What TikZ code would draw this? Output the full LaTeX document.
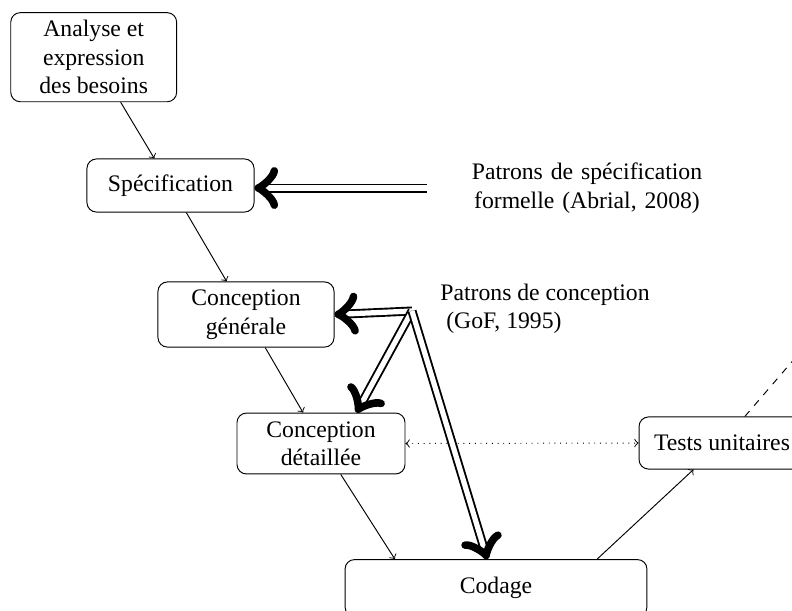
\documentclass[tikz,border=0pt]{standalone}
\usepackage{fontspec}
\setmainfont{Liberation Serif}
\usetikzlibrary{calc}
\newcommand\pattip[2]{%
  \draw[pat] (#2) -- ($(#1)!3.5pt!(#2)$);
  \coordinate (apx) at ($(#1)!1.6pt!(#2)$);
  \draw[tipstroke] ($(apx)!9.9pt!47:(#2)$) .. controls ($(apx)!7.8pt!35:(#2)$) and ($(apx)!1.45pt!18:(#2)$) .. (apx) .. controls ($(apx)!1.45pt!-18:(#2)$) and ($(apx)!7.8pt!-35:(#2)$) .. ($(apx)!9.9pt!-47:(#2)$);
}
\begin{document}
\begin{tikzpicture}[x=0.422pt,y=-0.422pt,
  box/.style={draw, rounded corners=4pt, align=center, inner sep=3pt, line width=0.4pt},
  flow/.style={->, line width=0.4pt},
  pat/.style={double, double distance=2.2pt, line width=0.8pt},
  tipstroke/.style={line width=3.2pt, line cap=round, line join=round},
]
\useasboundingbox (0,0) rectangle (792,610);
\node[box, minimum width=70pt, minimum height=37.6pt] (an) at (93.7,57.2) {Analyse et\\expression\\des besoins};
\node[box, minimum width=70.5pt, minimum height=22.4pt] (spec) at (170.5,185.5) {Spécification};
\node[box, minimum width=74.3pt, minimum height=27.5pt] (cg) at (246,314.5) {Conception\\générale};
\node[box, minimum width=70.9pt, minimum height=25.7pt] (cd) at (321,443.5) {Conception\\détaillée};
\node[box, minimum width=70pt, minimum height=22pt] (tu) at (722,443) {Tests unitaires};
\node[box, minimum width=127.4pt, minimum height=24pt] (codage) at (496,588) {Codage};
\node[align=center, text width=128pt] (pspec) at (587,188) {Patrons de spécification\\formelle (Abrial, 2008)};
\node[align=left, anchor=west] (pconc) at (432,309) {Patrons de conception\\\hspace{2.5pt}(GoF, 1995)};
\coordinate (pc) at (412,311);
\coordinate (up) at (845,300);
\coordinate (spect) at (spec.east |- pspec.west);
\coordinate (cdt) at ([xshift=15pt]cd.north);
\path (pc) -- coordinate[pos=1] (codt) (codage);
\draw[flow] (an) -- (spec);
\draw[flow] (spec) -- (cg);
\draw[flow] (cg) -- (cd);
\draw[flow] (cd) -- ([xshift=-1.5cm]codage.north);
\draw[flow] ([xshift=1.5cm]codage.north) -- (tu);
\draw[<->, dotted, line width=0.4pt] (cd.east) -- (tu.west);
\draw[dashed, line width=0.4pt] (tu) -- (up);
\pattip{spect}{pspec.west}
\pattip{cg.east}{pc}
\pattip{cdt}{pc}
\pattip{codt}{pc}
\end{tikzpicture}
\end{document}
